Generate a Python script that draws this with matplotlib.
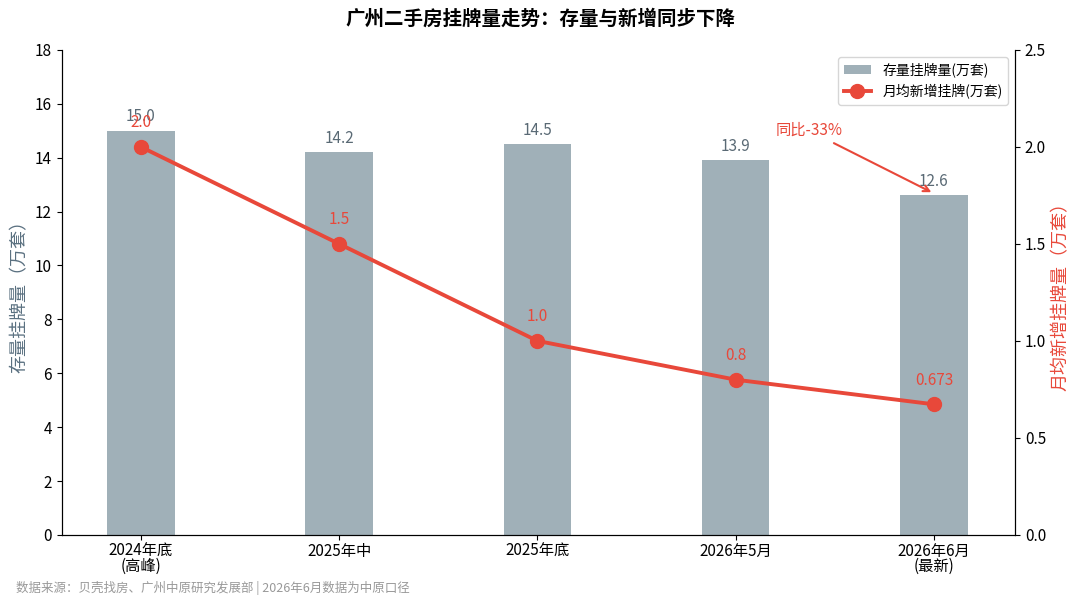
import matplotlib
matplotlib.use("Agg")
import matplotlib.pyplot as plt

plt.rcParams['font.family'] = ['Noto Sans CJK SC', 'DejaVu Sans']

categories = ["2024年底\n(高峰)", "2025年中", "2025年底", "2026年5月", "2026年6月\n(最新)"]
stock = [15.0, 14.2, 14.5, 13.9, 12.6]
new_listings = [2.0, 1.5, 1.0, 0.8, 0.673]
new_labels = ["2.0", "1.5", "1.0", "0.8", "0.673"]

bar_c = "#a0b0b8"
red = "#e8483a"

fig = plt.figure(figsize=(10.8, 6.01), dpi=100)
ax = fig.add_axes([0.057, 0.11, 0.883, 0.807])
x = list(range(len(categories)))
ax.bar(x, stock, width=0.34, color=bar_c, label="存量挂牌量(万套)", zorder=2)
for xi, v in zip(x, stock):
    ax.text(xi, v + 0.2, f"{v:.1f}", ha="center", va="bottom", fontsize=11, color="#5a6a75")
ax.set_ylim(0, 18)
ax.set_yticks(range(0, 19, 2))
ax.set_xlim(-0.4, 4.41)
ax.set_xticks(x)
ax.set_xticklabels(categories, fontsize=11, linespacing=0.85)
ax.tick_params(axis='x', pad=2)
ax.set_ylabel("存量挂牌量（万套）", color="#5a7080", fontsize=13)
ax.spines['top'].set_visible(False)
ax.tick_params(labelsize=11)

ax2 = ax.twinx()
ax2.plot(x, new_listings, color=red, lw=2.8, marker="o", ms=10, label="月均新增挂牌(万套)", zorder=3)
for xi, v, s in zip(x, new_listings, new_labels):
    ax2.text(xi, v + 0.08, s, ha="center", va="bottom", fontsize=11, color=red)
ax2.set_ylim(0, 2.5)
ax2.set_yticks([0, 0.5, 1.0, 1.5, 2.0, 2.5])
ax2.set_yticklabels(["0.0", "0.5", "1.0", "1.5", "2.0", "2.5"])
ax2.set_ylabel("月均新增挂牌量（万套）", color=red, fontsize=13)
ax2.spines['top'].set_visible(False)
ax2.tick_params(labelsize=11)

ax2.annotate("同比-33%", xy=(4.0, 1.76), xytext=(3.37, 2.04), color=red, fontsize=11,
             ha="center", va="bottom",
             arrowprops=dict(arrowstyle="->", color=red, lw=1.5))

h1, l1 = ax.get_legend_handles_labels()
h2, l2 = ax2.get_legend_handles_labels()
ax2.legend(h1 + h2, l1 + l2, loc="upper right", fontsize=10, frameon=True)

fig.suptitle("广州二手房挂牌量走势：存量与新增同步下降", fontsize=14, fontweight="bold", y=0.985)
fig.text(0.015, 0.015, "数据来源：贝壳找房、广州中原研究发展部 | 2026年6月数据为中原口径", fontsize=9, color="#999999")
fig.savefig("out.png", dpi=100)
